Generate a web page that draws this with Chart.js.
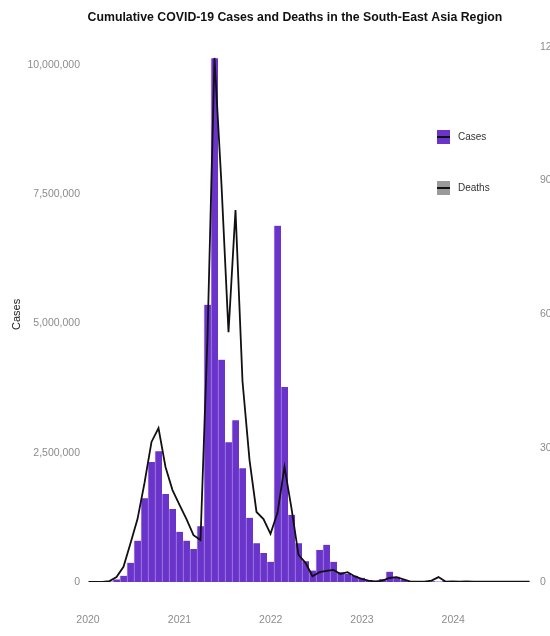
<!DOCTYPE html>
<html>
<head>
<meta charset="utf-8">
<title>Cumulative COVID-19 Cases and Deaths in the South-East Asia Region</title>
<script src="https://cdn.jsdelivr.net/npm/chart.js@4.4.1/dist/chart.umd.min.js"></script>
<style>
  html, body { margin: 0; padding: 0; background: #fff; }
  .frame { width: 550px; height: 636px; overflow: hidden; }
  .chart-box { position: relative; width: 590px; height: 636px; }
</style>
</head>
<body>
<div class="frame">
  <div class="chart-box"><canvas id="searoChart"></canvas></div>
</div>
<script>
// 28-day reporting periods (centre date of each period)
const periodDates = [
  '2020-01-03', '2020-01-31', '2020-02-28', '2020-03-27', '2020-04-24', '2020-05-22',
  '2020-06-19', '2020-07-17', '2020-08-14', '2020-09-11', '2020-10-09', '2020-11-06',
  '2020-12-04', '2021-01-01', '2021-01-29', '2021-02-26', '2021-03-26', '2021-04-23',
  '2021-05-21', '2021-06-18', '2021-07-16', '2021-08-13', '2021-09-10', '2021-10-08',
  '2021-11-05', '2021-12-03', '2021-12-31', '2022-01-28', '2022-02-25', '2022-03-25',
  '2022-04-22', '2022-05-20', '2022-06-17', '2022-07-15', '2022-08-12', '2022-09-09',
  '2022-10-07', '2022-11-04', '2022-12-02', '2022-12-30', '2023-01-27', '2023-02-24',
  '2023-03-24', '2023-04-21', '2023-05-19', '2023-06-16', '2023-07-14', '2023-08-11',
  '2023-09-08', '2023-10-06', '2023-11-03', '2023-12-01', '2023-12-29', '2024-01-26',
  '2024-02-23', '2024-03-22', '2024-04-19', '2024-05-17', '2024-06-14', '2024-07-12',
  '2024-08-09', '2024-09-06', '2024-10-04', '2024-11-01'
];

// new cases per period
const cases = [
  0, 0, 2000, 10000, 50000, 120000,
  370000, 800000, 1620000, 2320000, 2530000, 1700000,
  1410000, 970000, 800000, 640000, 1080000, 5360000,
  10130000, 4300000, 2700000, 3130000, 2200000, 1240000,
  750000, 560000, 390000, 6890000, 3770000, 1300000,
  750000, 400000, 220000, 620000, 720000, 390000,
  190000, 160000, 120000, 80000, 40000, 30000,
  60000, 200000, 100000, 40000, 20000, 15000,
  20000, 15000, 10000, 20000, 15000, 10000,
  10000, 8000, 10000, 12000, 10000, 8000,
  10000, 12000, 10000, 8000
];

// deaths per period
const deaths = [
  0, 0, 0, 200, 1100, 3400,
  8700, 14100, 22200, 31400, 34500, 25800,
  20600, 17300, 14100, 10500, 9400, 55000,
  117500, 89000, 56000, 83400, 45000, 27400,
  15700, 14100, 10800, 15500, 25800, 16500,
  6100, 4300, 1300, 2200, 2500, 2700,
  1800, 2200, 1300, 700, 300, 100,
  300, 900, 1100, 600, 100, 100,
  100, 300, 1100, 100, 150, 100,
  120, 100, 80, 100, 90, 80,
  100, 90, 80, 70
];

const yearTicks = ['2020', '2021', '2022', '2023', '2024'];
const caseTicks = [0, 2500000, 5000000, 7500000, 10000000];
const deathTicks = [0, 30000, 60000, 90000, 120000];

const CASES_PURPLE = '#6a33c9';
const DEATHS_GREY = '#9a9a9a';
const TICK_GREY = '#8c8c8c';
const FONT = 'Liberation Sans, Arial, sans-serif';

const DAY_MS = 86400000;
const origin = Date.parse('2020-01-01');
const toDay = d => (Date.parse(d) - origin) / DAY_MS;

const casePoints = periodDates.map((d, i) => ({ x: toDay(d), y: cases[i] }));
const deathPoints = periodDates.map((d, i) => ({ x: toDay(d), y: deaths[i] }));

// ggplot-style key drawn inside the plot, top right
const keyLegend = {
  id: 'keyLegend',
  afterDraw(chart) {
    const { ctx } = chart;
    const entries = [
      { label: chart.data.datasets[1].label, fill: CASES_PURPLE, y: 137 },
      { label: chart.data.datasets[0].label, fill: DEATHS_GREY, y: 188 }
    ];
    ctx.save();
    entries.forEach(e => {
      ctx.fillStyle = e.fill;
      ctx.fillRect(437, e.y - 7, 13, 14);
      ctx.strokeStyle = '#111';
      ctx.lineWidth = 2;
      ctx.beginPath();
      ctx.moveTo(437, e.y);
      ctx.lineTo(450, e.y);
      ctx.stroke();
      ctx.fillStyle = '#333';
      ctx.font = '10px ' + FONT;
      ctx.textBaseline = 'middle';
      ctx.textAlign = 'left';
      ctx.fillText(e.label, 458, e.y);
    });
    ctx.restore();
  }
};

const fixedTicks = values => scale => {
  scale.ticks = values.map(v => ({ value: v }));
};

function renderSearoChart() {
  const canvas = document.getElementById('searoChart');
  if (!canvas) return;

  new Chart(canvas.getContext('2d'), {
    type: 'bar',
    data: {
      datasets: [
        {
          type: 'line',
          label: 'Deaths',
          data: deathPoints,
          yAxisID: 'y1',
          borderColor: '#111',
          borderWidth: 1.8,
          pointRadius: 0,
          tension: 0,
          order: 0
        },
        {
          type: 'bar',
          label: 'Cases',
          data: casePoints,
          yAxisID: 'y',
          backgroundColor: CASES_PURPLE,
          borderColor: '#a88ee8',
          borderWidth: { left: 1, right: 0, top: 0, bottom: 0 },
          borderSkipped: false,
          barPercentage: 1,
          categoryPercentage: 1,
          order: 1
        }
      ]
    },
    options: {
      responsive: true,
      maintainAspectRatio: false,
      animation: false,
      layout: { padding: 0 },
      plugins: {
        legend: { display: false },
        title: {
          display: true,
          text: 'Cumulative COVID-19 Cases and Deaths in the South-East Asia Region',
          color: '#111',
          font: { family: FONT, size: 12.3, weight: 'bold' },
          padding: { top: 10, bottom: 22 }
        },
        tooltip: { enabled: false }
      },
      scales: {
        x: {
          type: 'linear',
          offset: false,
          min: 0,
          max: 1768,
          // tick marks are hidden, their length only pushes the year labels down
          grid: { display: false, offset: false, drawTicks: true, tickLength: 30 },
          border: { display: false },
          afterBuildTicks: fixedTicks(yearTicks.map(y => toDay(y + '-01-01'))),
          afterFit: scale => { scale.height = 54; },
          ticks: {
            padding: 2,
            maxRotation: 0,
            autoSkip: false,
            color: TICK_GREY,
            font: { family: FONT, size: 10.5 },
            callback: (value, index) => yearTicks[index]
          }
        },
        y: {
          position: 'left',
          min: 0,
          max: 10350000,
          grid: { display: false, drawTicks: false },
          border: { display: false },
          afterBuildTicks: fixedTicks(caseTicks),
          afterFit: scale => { scale.width = 88; },
          title: {
            display: true,
            text: 'Cases',
            color: '#222',
            font: { family: FONT, size: 11 },
            padding: { top: 10 }
          },
          ticks: {
            padding: 8,
            color: TICK_GREY,
            font: { family: FONT, size: 10.5 }
          }
        },
        y1: {
          position: 'right',
          min: 0,
          max: 120000,
          grid: { display: false, drawTicks: false },
          border: { display: false },
          afterBuildTicks: fixedTicks(deathTicks),
          afterFit: scale => { scale.width = 60; },
          title: {
            display: true,
            text: 'Deaths',
            color: '#222',
            font: { family: FONT, size: 11 }
          },
          ticks: {
            padding: 10,
            color: TICK_GREY,
            font: { family: FONT, size: 10.5 }
          }
        }
      }
    },
    plugins: [keyLegend]
  });
}

document.addEventListener('DOMContentLoaded', renderSearoChart);
</script>
</body>
</html>
